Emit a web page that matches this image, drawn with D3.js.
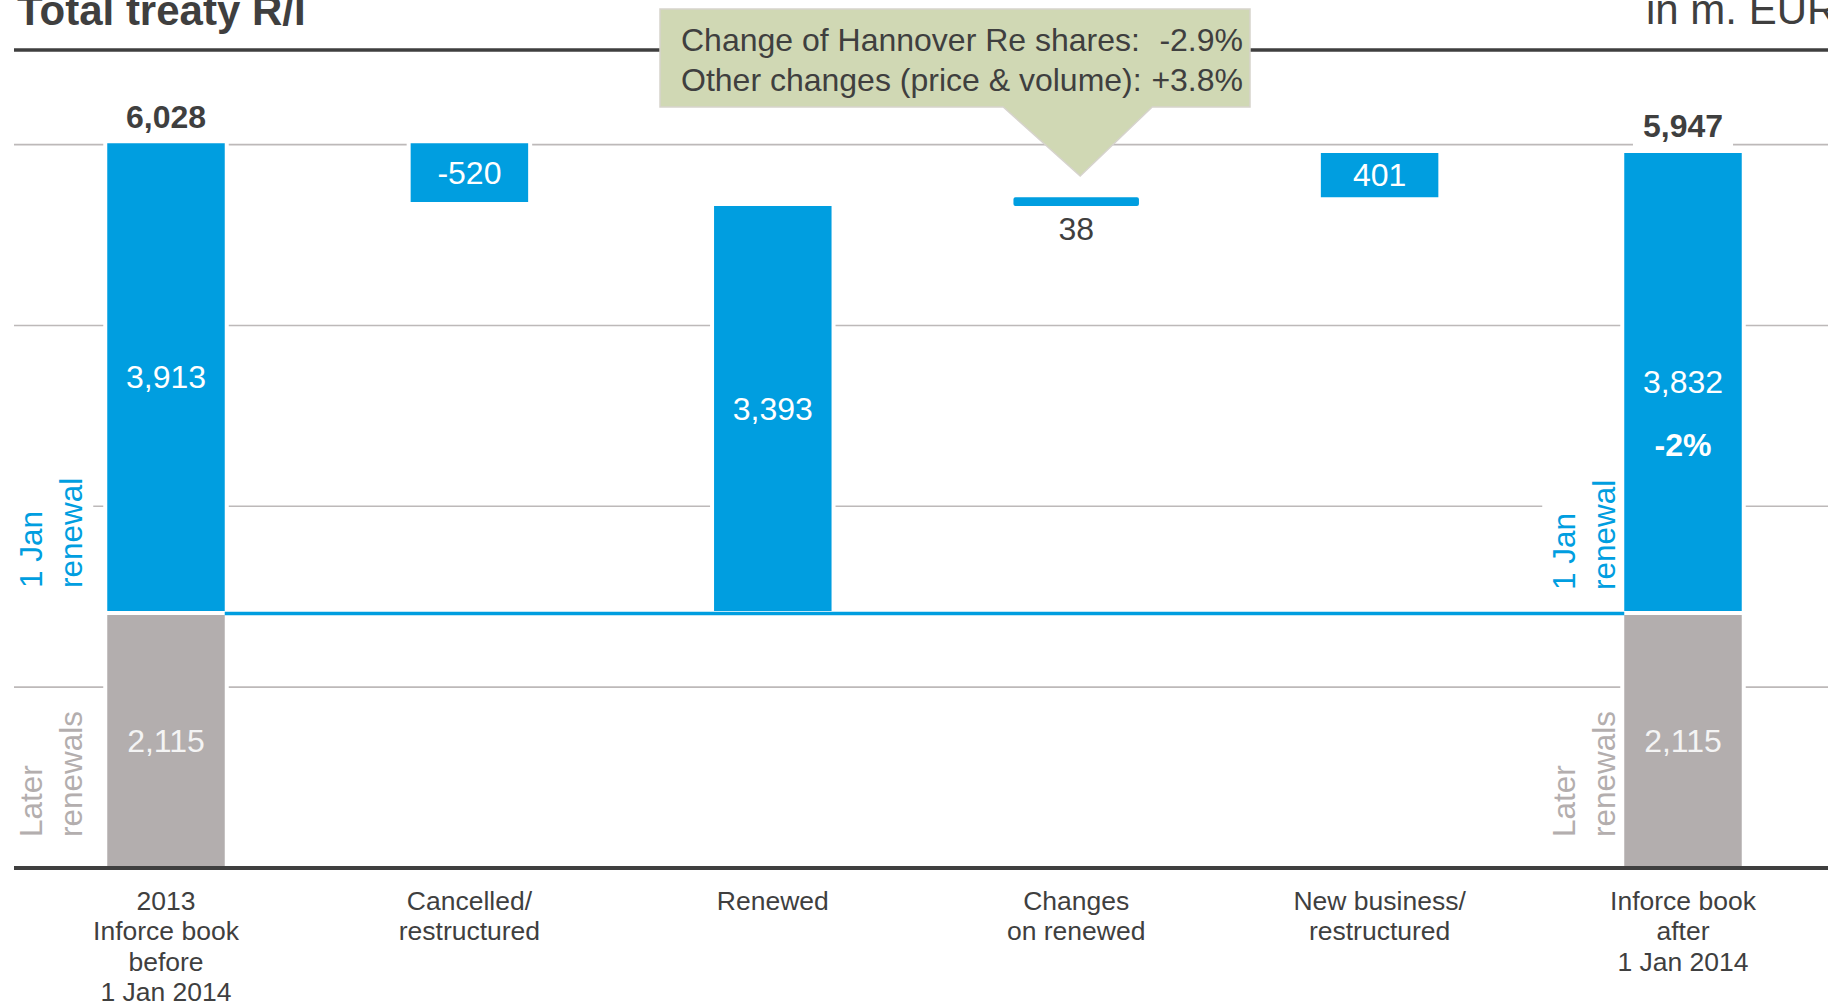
<!DOCTYPE html>
<html>
<head>
<meta charset="utf-8">
<script src="https://cdn.jsdelivr.net/npm/d3@7"></script>
<style>
  html, body { margin: 0; padding: 0; background: #fff; }
  svg { display: block; font-family: "Liberation Sans", Arial, Helvetica, sans-serif; }
</style>
</head>
<body>
<svg id="chart" width="1828" height="1003"></svg>
<script>
// Treaty reinsurance book: 1 Jan 2014 renewal waterfall (in m. EUR)
const categoryLines = [
  ["2013", "Inforce book", "before", "1 Jan 2014"],
  ["Cancelled/", "restructured"],
  ["Renewed"],
  ["Changes", "on renewed"],
  ["New business/", "restructured"],
  ["Inforce book", "after", "1 Jan 2014"]
];
// how each column's 1 Jan segment is stacked
const stepKinds = ["total", "delta", "subtotal", "delta", "delta", "total"];
const janRenewal = [3913, -520, 3393, 38, 401, 3832];
const laterRenewals = [2115, 0, 0, 0, 0, 2115];
const bookTotals = [6028, null, null, null, null, 5947];
const gridTicks = [1500, 3000, 4500, 6000];
const janChangeLabel = "-2%";
const calloutRows = [
  ["Change of Hannover Re shares:", "-2.9%"],
  ["Other changes (price & volume):", "+3.8%"]
];
const calloutColumn = 3;

const BLUE = "#009ee0";
const GREY_BAR = "#b3aeae";
const GRID = "#bdb9b9";
const DARK = "#3f3f3f";

const W = 1828, H = 1003;
const svg = d3.select("#chart");

const x = d3.scaleBand().domain(d3.range(categoryLines.length)).range([14.3, 1834.7]);
const y = d3.scaleLinear().domain([0, 6000]).range([868, 144.6]);
const barW = 121.5;
const xc = i => x(i) + x.bandwidth() / 2;

const fmt = d3.formatLocale({decimal: ".", thousands: ",", grouping: [3], currency: ["", ""], minus: "-"}).format(",");

// stacked / floating segments
const base = laterRenewals[0];
let running = base;
const segs = janRenewal.map((v, i) => {
  let lo, hi;
  if (stepKinds[i] === "total") { lo = base; hi = base + v; running = hi; }
  else if (stepKinds[i] === "subtotal") { lo = base; hi = base + v; }
  else { lo = Math.min(running, running + v); hi = Math.max(running, running + v); running += v; }
  return {i, v, lo, hi, kind: stepKinds[i]};
});

// header rule, title, unit
svg.append("line").attr("x1", 14).attr("x2", W).attr("y1", 50).attr("y2", 50)
  .attr("stroke", DARK).attr("stroke-width", 3.5);
svg.append("text").attr("x", 17).attr("y", 25).attr("font-size", 42).attr("font-weight", "bold")
  .attr("fill", DARK).text("Total treaty R/I");
svg.append("text").attr("x", 1646).attr("y", 24).attr("font-size", 42)
  .attr("fill", DARK).text("in m. EUR");

// gridlines
svg.append("g").selectAll("line").data(gridTicks).join("line")
  .attr("x1", 14).attr("x2", W)
  .attr("y1", d => y(d)).attr("y2", d => y(d))
  .attr("stroke", GRID).attr("stroke-width", 1.6);

// rotated side labels
function sideLabel(lines, bx, by, color) {
  const g = svg.append("g");
  const bg = g.append("rect").attr("fill", "#fff");
  const t = g.append("text").attr("transform", `translate(${bx},${by}) rotate(-90)`)
    .attr("font-size", 31.5).attr("fill", color);
  lines.forEach((s, k) => t.append("tspan").attr("x", 0).attr("dy", k ? 40 : 0).text(s));
  const bb = t.node().getBBox();
  // bbox is in rotated space: width runs up the page, height runs across
  bg.attr("x", bx + bb.y - 4).attr("y", by - bb.x - bb.width - 4)
    .attr("width", bb.height + 8).attr("height", bb.width + 8);
}
const leftEdge = xc(0) - barW / 2, rightEdge = xc(5) - barW / 2;
sideLabel(["1 Jan", "renewal"], leftEdge - 63, y(base) - 25, BLUE);
sideLabel(["Later", "renewals"], leftEdge - 63, y(0) - 31, GREY_BAR);
sideLabel(["1 Jan", "renewal"], rightEdge - 47, y(base) - 23, BLUE);
sideLabel(["Later", "renewals"], rightEdge - 47, y(0) - 31, GREY_BAR);

// later renewals (grey base)
svg.append("g").selectAll("rect").data(laterRenewals.map((v, i) => ({i, v})).filter(d => d.v > 0)).join("rect")
  .attr("x", d => xc(d.i) - barW / 2).attr("width", barW)
  .attr("y", d => y(d.v)).attr("height", d => y(0) - y(d.v))
  .attr("fill", GREY_BAR).attr("stroke", "#fff").attr("stroke-width", 4);

// 1 Jan renewal segments
svg.append("g").selectAll("rect").data(segs).join("rect")
  .attr("x", d => xc(d.i) - barW / 2).attr("width", barW)
  .attr("y", d => y(d.hi)).attr("height", d => y(d.lo) - y(d.hi))
  .attr("fill", BLUE)
  .attr("stroke", d => (y(d.lo) - y(d.hi) < 12 ? BLUE : "#fff"))
  .attr("stroke-width", 4).attr("stroke-linejoin", "round");

// 1 Jan base line connecting the two inforce books
svg.append("line")
  .attr("x1", xc(0) + barW / 2 - 2).attr("x2", xc(5) - barW / 2 + 2)
  .attr("y1", y(base) + 0.5).attr("y2", y(base) + 0.5)
  .attr("stroke", BLUE).attr("stroke-width", 3.4);

// x axis line
svg.append("line").attr("x1", 14).attr("x2", W).attr("y1", y(0)).attr("y2", y(0))
  .attr("stroke", DARK).attr("stroke-width", 4);

// value labels
const lbl = svg.append("g").attr("font-size", 32).attr("text-anchor", "middle");
segs.forEach(d => {
  const h = y(d.lo) - y(d.hi);
  if (h < 30) {
    lbl.append("text").attr("x", xc(d.i)).attr("y", y(d.lo) + 25).attr("dy", "0.35em")
      .attr("fill", DARK).text(fmt(d.v));
  } else {
    lbl.append("text").attr("x", xc(d.i)).attr("y", (y(d.lo) + y(d.hi)) / 2).attr("dy", "0.35em")
      .attr("fill", "#fff").text(fmt(d.v));
  }
});
laterRenewals.forEach((v, i) => {
  if (v > 0) lbl.append("text").attr("x", xc(i)).attr("y", (y(0) + y(v)) / 2).attr("dy", "0.35em")
    .attr("fill", "#f4f4f4").text(fmt(v));
});
{
  const last = segs[segs.length - 1];
  lbl.append("text").attr("x", xc(last.i)).attr("y", (y(last.lo) + y(last.hi)) / 2 + 63).attr("dy", "0.35em")
    .attr("fill", "#fff").attr("font-weight", "bold").text(janChangeLabel);
}
bookTotals.forEach((v, i) => {
  if (v == null) return;
  const g = lbl.append("g");
  const bg = g.append("rect").attr("fill", "#fff");
  const t = g.append("text").attr("x", xc(i)).attr("y", y(v) - 13.5)
    .attr("font-weight", "bold").attr("fill", DARK).text(fmt(v));
  const bb = t.node().getBBox();
  bg.attr("x", bb.x - 10).attr("y", bb.y).attr("width", bb.width + 20).attr("height", y(v) - 3 - bb.y);
});

// category labels
const cat = svg.append("g").attr("font-size", 26.5).attr("text-anchor", "middle").attr("fill", DARK);
categoryLines.forEach((lines, i) => {
  const t = cat.append("text").attr("x", xc(i)).attr("y", 909.5);
  lines.forEach((s, k) => t.append("tspan").attr("x", xc(i)).attr("dy", k ? 30.6 : 0).text(s));
});

// callout pointing at the change on renewed business
{
  const tipX = xc(calloutColumn) + 4, tipY = 176;
  const bx0 = 660, bx1 = 1250, by0 = 9, by1 = 107;
  const path = d3.path();
  path.moveTo(bx0, by0); path.lineTo(bx1, by0); path.lineTo(bx1, by1);
  path.lineTo(tipX + 72, by1); path.lineTo(tipX, tipY); path.lineTo(tipX - 77, by1);
  path.lineTo(bx0, by1); path.closePath();
  svg.append("path").attr("d", path.toString())
    .attr("fill", "#d0d8b4").attr("stroke", "#d6d3cc").attr("stroke-width", 1.5);
  const ct = svg.append("g").attr("font-size", 32).attr("fill", DARK);
  calloutRows.forEach((r, k) => {
    ct.append("text").attr("x", bx0 + 21).attr("y", 51 + k * 39.5).text(r[0]);
    ct.append("text").attr("x", bx1 - 7).attr("y", 51 + k * 39.5).attr("text-anchor", "end").text(r[1]);
  });
}
</script>
</body>
</html>
